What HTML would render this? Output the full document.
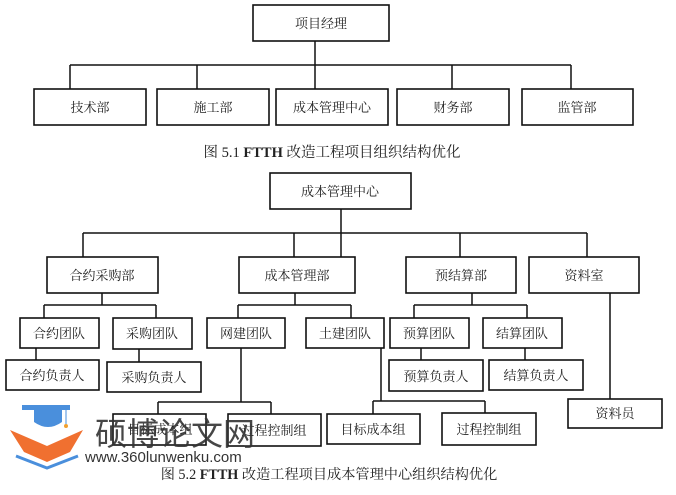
<!DOCTYPE html>
<html><head><meta charset="utf-8"><style>
html,body{margin:0;padding:0;background:#fff;}
svg{display:block}
text{font-family:"Liberation Serif","Noto Serif CJK SC","Noto Sans CJK SC",serif;font-size:13px;fill:#222;}
</style></head><body>
<svg width="676" height="495" viewBox="0 0 676 495" xmlns="http://www.w3.org/2000/svg">
<g fill="#fff" stroke="#111" stroke-width="1.6">
<rect x="253" y="5" width="136" height="36"/>
<rect x="34" y="89" width="112" height="36"/>
<rect x="157" y="89" width="112" height="36"/>
<rect x="276" y="89" width="112" height="36"/>
<rect x="397" y="89" width="112" height="36"/>
<rect x="522" y="89" width="111" height="36"/>
<rect x="270" y="173" width="141" height="36"/>
<rect x="47" y="257" width="111" height="36"/>
<rect x="239" y="257" width="116" height="36"/>
<rect x="406" y="257" width="110" height="36"/>
<rect x="529" y="257" width="110" height="36"/>
<rect x="20" y="318" width="79" height="30"/>
<rect x="113" y="318" width="79" height="31"/>
<rect x="207" y="318" width="78" height="30"/>
<rect x="306" y="318" width="78" height="30"/>
<rect x="390" y="318" width="79" height="30"/>
<rect x="483" y="318" width="79" height="30"/>
<rect x="6" y="360" width="93" height="30"/>
<rect x="107" y="362" width="94" height="30"/>
<rect x="389" y="360" width="94" height="31"/>
<rect x="489" y="360" width="94" height="30"/>
<rect x="568" y="399" width="94" height="29"/>
<rect x="113" y="414" width="93" height="31"/>
<rect x="228" y="414" width="93" height="32"/>
<rect x="327" y="414" width="93" height="30"/>
<rect x="442" y="413" width="94" height="32"/>
</g>
<g fill="none" stroke="#111" stroke-width="1.5">
<path d="M315 41V89M70 65H571M70 65V89M197 65V89M452 65V89M571 65V89"/>
<path d="M341 209V257M83 233H587M83 233V257M294 233V257M460 233V257M587 233V257"/>
<path d="M102 293V305M44 305H156M44 305V318M156 305V318"/>
<path d="M295 293V305M238 305H351M238 305V318M351 305V318"/>
<path d="M472 293V305M414 305H527M414 305V318M527 305V318"/>
<path d="M36 348V360M139 349V362M421 348V360M525 348V360M610 293V399"/>
<path d="M241 348V402M158 402H271M158 402V414M271 402V414"/>
<path d="M381 348V401M373 401H485M373 401V414M485 401V413"/>
</g>
<g text-anchor="middle">
<text x="321" y="28">项目经理</text>
<text x="90" y="112">技术部</text>
<text x="213" y="112">施工部</text>
<text x="332" y="112">成本管理中心</text>
<text x="453" y="112">财务部</text>
<text x="577" y="112">监管部</text>
<text x="340" y="196">成本管理中心</text>
<text x="102" y="280">合约采购部</text>
<text x="297" y="280">成本管理部</text>
<text x="461" y="280">预结算部</text>
<text x="584" y="280">资料室</text>
<text x="59" y="338">合约团队</text>
<text x="152" y="338">采购团队</text>
<text x="246" y="338">网建团队</text>
<text x="345" y="338">土建团队</text>
<text x="429" y="338">预算团队</text>
<text x="522" y="338">结算团队</text>
<text x="52" y="380">合约负责人</text>
<text x="154" y="382">采购负责人</text>
<text x="436" y="381">预算负责人</text>
<text x="536" y="380">结算负责人</text>
<text x="615" y="418">资料员</text>
<text x="160" y="434">目标成本组</text>
<text x="274" y="435">过程控制组</text>
<text x="373" y="434">目标成本组</text>
<text x="489" y="434">过程控制组</text>
<text x="332" y="157" style="font-size:14.5px">图 5.1   <tspan font-weight="bold">FTTH</tspan> 改造工程项目组织结构优化</text>
<text x="329" y="479" style="font-size:14.2px">图 5.2   <tspan font-weight="bold">FTTH</tspan> 改造工程项目成本管理中心组织结构优化</text>
</g>
<g>
<path d="M22 405H70V410H22Z" fill="#4a8fdc"/>
<path d="M34 410H62V422Q48 432 34 422Z" fill="#4a8fdc"/>
<path d="M66 410V424" stroke="#4a8fdc" stroke-width="1"/>
<circle cx="66" cy="426" r="2" fill="#f0a030"/>
<path d="M10 430L47 446L83 430L70 452L47 462L24 452Z" fill="#f07030"/>
<path d="M16 456L47 468L78 456" stroke="#4a8fdc" stroke-width="3" fill="none"/>
<text x="95" y="445" style="font-family:'Noto Sans CJK SC',sans-serif;font-size:32px;fill:#333;opacity:0.9">硕博论文网</text>
<text x="85" y="462" style="font-family:'Liberation Sans',sans-serif;font-size:15px;fill:#333">www.360lunwenku.com</text>
</g>
</svg>
</body></html>
